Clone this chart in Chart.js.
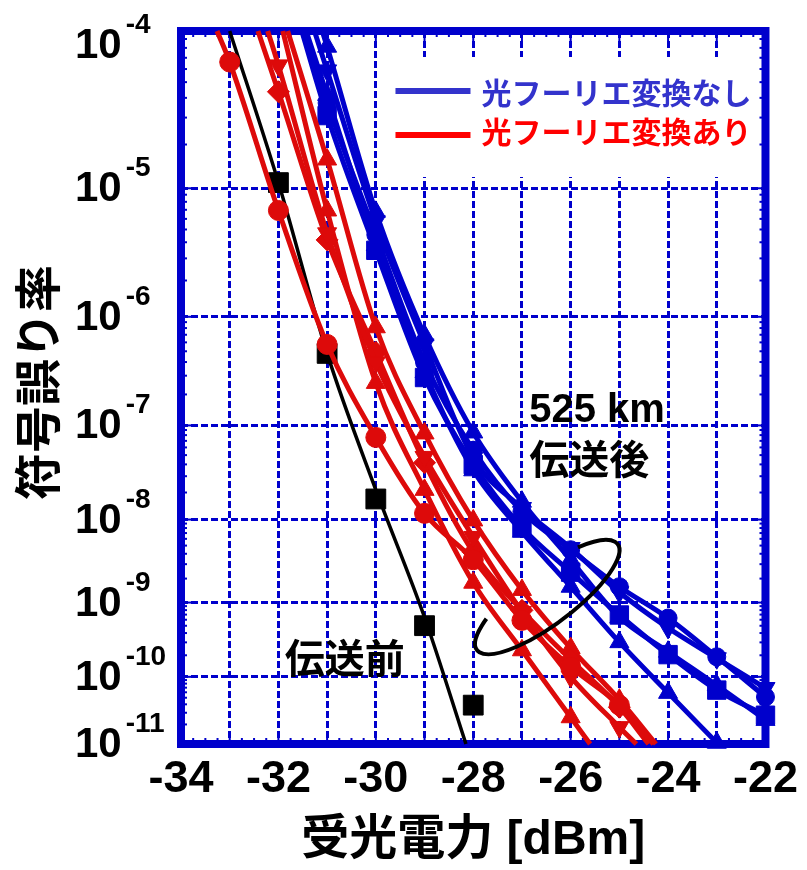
<!DOCTYPE html>
<html lang="ja">
<head>
<meta charset="utf-8">
<title>符号誤り率特性</title>
<script src="https://cdn.jsdelivr.net/npm/chart.js@4.4.1/dist/chart.umd.min.js"></script>
<style>
  html, body { margin: 0; padding: 0; background: #ffffff; }
  #wrap { width: 807px; height: 870px; }
</style>
</head>
<body>
<div id="wrap"><canvas id="ber" width="807" height="870"></canvas></div>
<script>
// Received optical power [dBm] and log10(symbol error rate) for every curve.
// A power with a fractional value is where a fitted curve leaves the frame;
// integer powers are measured points and carry a marker.

// Before transmission (black): fitted line and measured points
const b2bFitPower  = [-33.0, -32, -31, -30, -29, -28.15];
const b2bFitLogBer = [-4.00, -4.96, -6.32, -7.67, -9.19, -11.0];
const b2bPower     = [-32, -31, -30, -29, -28];
const b2bLogBer    = [-4.96, -6.32, -7.77, -9.30, -10.41];

// After 525 km, with optical Fourier transform (red)
const ftCirclePower   = [-33.26, -33, -32, -31, -30, -29, -28, -27, -26, -25, -24.3];
const ftCircleLogBer  = [-4.00, -4.18, -5.16, -6.24, -7.12, -7.93, -8.47, -9.23, -9.86, -10.41, -11.0];
const ftDownPower     = [-32.22, -32, -31, -30, -29, -28, -27, -26, -25, -24.65];
const ftDownLogBer    = [-4.00, -4.20, -5.33, -6.40, -7.32, -8.20, -9.12, -10.00, -10.74, -11.0];
const ftDiamondPower  = [-32.42, -32, -31, -30, -29, -28, -27, -26, -25, -24.4];
const ftDiamondLogBer = [-4.00, -4.36, -5.38, -6.31, -7.38, -8.38, -9.10, -9.76, -10.44, -11.0];
const ftUpPower       = [-31.81, -31, -30, -29, -28, -27, -26, -25, -24.25];
const ftUpLogBer      = [-4.00, -4.80, -6.09, -7.08, -8.01, -8.84, -9.60, -10.33, -11.0];
const ftUp2Power      = [-31.91, -31, -30, -29, -28, -27, -26, -25.6];
const ftUp2LogBer     = [-4.00, -5.16, -6.59, -7.67, -8.75, -9.63, -10.59, -11.0];

// After 525 km, without optical Fourier transform (blue)
const noCirclePower  = [-31.47, -31, -30, -29, -28, -27, -26, -25, -24, -23, -22];
const noCircleLogBer = [-4.00, -4.43, -5.34, -6.40, -7.25, -7.91, -8.35, -8.80, -9.20, -9.72, -10.29];
const noDownPower    = [-31.26, -31, -30, -29, -28, -27, -26, -25, -24, -23, -22];
const noDownLogBer   = [-4.00, -4.23, -5.24, -6.24, -7.33, -7.87, -8.33, -8.87, -9.33, -9.74, -10.16];
const noSquarePower  = [-31.52, -31, -30, -29, -28, -27, -26, -25, -24, -23, -22];
const noSquareLogBer = [-4.00, -4.51, -5.46, -6.54, -7.40, -8.09, -8.62, -9.16, -9.69, -10.19, -10.56];
const noUpPower      = [-31.1, -31, -30, -29, -28, -27, -26, -25, -24, -23, -22];
const noUpLogBer     = [-4.00, -4.09, -5.17, -6.16, -7.07, -7.80, -8.47, -9.19, -9.65, -10.12, -10.63];
const noUp2Power     = [-31.43, -31, -30, -29, -28, -27, -26, -25, -24, -23];
const noUp2LogBer    = [-4.00, -4.38, -5.42, -6.49, -7.46, -8.14, -8.80, -9.52, -10.23, -10.98];

// Axis ticks
const berExponents = [-4, -5, -6, -7, -8, -9, -10, -11];
const powerTicks   = [-34, -32, -30, -28, -26, -24, -22];

// Legend entries
const legendLabels = ['光フーリエ変換なし', '光フーリエ変換あり'];

const BLUE = '#0000CC';
const RED = '#DD0A0A';
const BLACK = '#000000';
const LATIN = '"Liberation Sans", Arial, sans-serif';
const CJK = '"Liberation Sans", "Noto Sans CJK JP", sans-serif';

// symbol error rate axis: log10(-log10(BER)), so the decades spread out at high BER
const berAxis = logBer => Math.log10(-logBer);

function curve(power, logBer, color, shape, radius, rotation) {
  return {
    data: power.map((p, i) => ({ x: p, y: berAxis(logBer[i]) })),
    showLine: true,
    borderColor: color,
    backgroundColor: color,
    borderWidth: 5,
    cubicInterpolationMode: 'monotone',
    pointStyle: shape,
    pointRotation: rotation || 0,
    pointRadius: ctx => (ctx.raw && Number.isInteger(ctx.raw.x)) ? radius : 0,
    pointBorderWidth: 1,
    pointBorderColor: color,
    pointBackgroundColor: color,
    clip: false
  };
}

const datasets = [
  curve(ftCirclePower, ftCircleLogBer, RED, 'circle', 10),
  curve(ftDownPower, ftDownLogBer, RED, 'triangle', 11, 180),
  curve(ftDiamondPower, ftDiamondLogBer, RED, 'rectRot', 11),
  curve(ftUpPower, ftUpLogBer, RED, 'triangle', 11),
  curve(ftUp2Power, ftUp2LogBer, RED, 'triangle', 11),
  curve(noCirclePower, noCircleLogBer, BLUE, 'circle', 9),
  curve(noDownPower, noDownLogBer, BLUE, 'triangle', 11, 180),
  curve(noSquarePower, noSquareLogBer, BLUE, 'rect', 13),
  curve(noUpPower, noUpLogBer, BLUE, 'triangle', 11),
  curve(noUp2Power, noUp2LogBer, BLUE, 'triangle', 11),
  {
    data: b2bPower.map((p, i) => ({ x: p, y: berAxis(b2bLogBer[i]) })),
    showLine: false,
    pointStyle: 'rect',
    pointRadius: 14,
    pointBackgroundColor: BLACK,
    pointBorderColor: BLACK,
    clip: false
  },
  {
    data: b2bFitPower.map((p, i) => ({ x: p, y: berAxis(b2bFitLogBer[i]) })),
    showLine: true,
    borderColor: BLACK,
    borderWidth: 3.5,
    cubicInterpolationMode: 'monotone',
    pointRadius: 0,
    clip: false
  }
];

function stroke(ctx, x1, y1, x2, y2) {
  ctx.beginPath();
  ctx.moveTo(x1, y1);
  ctx.lineTo(x2, y2);
  ctx.stroke();
}

// Frame, inner ticks and the legend panel, drawn over the grid and under the curves
const framePlugin = {
  id: 'framePlugin',
  beforeDatasetsDraw(chart) {
    const { ctx, chartArea: a, scales: { x, y } } = chart;
    ctx.save();

    // legend panel
    const lx = a.right - 372;
    ctx.fillStyle = '#ffffff';
    ctx.fillRect(lx, a.top + 26, a.right - lx - 4, 120);
    const rows = [{ c: '#3333CC', dy: 60 }, { c: '#FF0000', dy: 104 }];
    rows.forEach((r, i) => {
      ctx.strokeStyle = r.c;
      ctx.lineWidth = 6;
      stroke(ctx, lx + 2, a.top + r.dy, lx + 77, a.top + r.dy);
      ctx.fillStyle = r.c;
      ctx.font = 'bold 30px "Noto Sans CJK JP", sans-serif';
      ctx.textAlign = 'left';
      ctx.textBaseline = 'middle';
      ctx.fillText(legendLabels[i], lx + 88, a.top + r.dy + (i === 0 ? 2 : -3));
    });

    // minor and major ticks along the frame
    ctx.strokeStyle = BLUE;
    ctx.lineWidth = 2;
    for (let k = 0; k <= 48; k++) {
      const p = -34 + k * 0.25;
      const px = x.getPixelForValue(p);
      const len = k % 4 === 0 ? 11 : 6;
      stroke(ctx, px, a.bottom, px, a.bottom - len);
      stroke(ctx, px, a.top, px, a.top + len);
    }
    for (let e = 4; e <= 10; e++) {
      for (let m = 2; m <= 9; m++) {
        const py = y.getPixelForValue(Math.log10(e + 1 - Math.log10(m)));
        stroke(ctx, a.left, py, a.left + 6, py);
        stroke(ctx, a.right, py, a.right - 6, py);
      }
    }
    berExponents.forEach(e => {
      const py = y.getPixelForValue(berAxis(e));
      stroke(ctx, a.left, py, a.left + 11, py);
      stroke(ctx, a.right, py, a.right - 11, py);
    });

    // frame
    ctx.lineWidth = 8;
    ctx.strokeRect(a.left, a.top, a.right - a.left, a.bottom - a.top);
    ctx.restore();
  },

  afterDatasetsDraw(chart) {
    const { ctx, scales: { x, y } } = chart;
    ctx.save();
    ctx.fillStyle = BLACK;
    ctx.textAlign = 'left';

    // "525 km / 伝送後" note
    const nx = x.getPixelForValue(-26.85);
    ctx.font = 'bold 40px ' + LATIN;
    ctx.textBaseline = 'alphabetic';
    ctx.fillText('525 km', nx, y.getPixelForValue(berAxis(-7)) - 3);
    ctx.font = 'bold 40px "Noto Sans CJK JP", sans-serif';
    ctx.textBaseline = 'middle';
    ctx.fillText('伝送後', nx, y.getPixelForValue(berAxis(-7.34)));

    // "伝送前" note
    ctx.fillText('伝送前', x.getPixelForValue(-31.87), y.getPixelForValue(berAxis(-9.74)));

    // ellipse grouping the curves after transmission
    ctx.strokeStyle = BLACK;
    ctx.lineWidth = 4;
    ctx.beginPath();
    ctx.ellipse(x.getPixelForValue(-26.48), y.getPixelForValue(berAxis(-8.93)),
      88, 27, -37 * Math.PI / 180, -51.8 * Math.PI / 180, 225.5 * Math.PI / 180);
    ctx.stroke();
    ctx.restore();
  },

  afterDraw(chart) {
    const { ctx, chartArea: a, scales: { y } } = chart;
    ctx.save();
    ctx.fillStyle = BLACK;
    ctx.textAlign = 'left';
    ctx.textBaseline = 'alphabetic';

    // 10^n tick labels
    const lx = a.left - 106;
    berExponents.forEach(e => {
      const py = y.getPixelForValue(berAxis(e));
      const base = Math.max(py + 13, a.top + 27);
      ctx.font = 'bold 42px ' + LATIN;
      ctx.fillText('10', lx, base);
      const w = ctx.measureText('10').width;
      ctx.font = 'bold 28px ' + LATIN;
      ctx.fillText(String(e), lx + w + 4, base - 25);
    });

    // vertical axis title
    ctx.translate(37, (a.top + a.bottom) / 2 - 5);
    ctx.rotate(-Math.PI / 2);
    ctx.textAlign = 'center';
    ctx.textBaseline = 'middle';
    ctx.font = 'bold 47px "Noto Sans CJK JP", sans-serif';
    ctx.fillText('符号誤り率', 0, 0);
    ctx.restore();
  }
};

new Chart(document.getElementById('ber'), {
  type: 'scatter',
  data: { datasets },
  options: {
    responsive: false,
    animation: false,
    events: [],
    layout: { padding: { top: 31, right: 40, bottom: 0, left: 0 } },
    plugins: { legend: { display: false }, tooltip: { enabled: false } },
    scales: {
      x: {
        type: 'linear',
        min: -34,
        max: -22,
        afterFit(s) { s.height = 126; },
        ticks: {
          stepSize: 1,
          autoSkip: false,
          maxRotation: 0,
          minRotation: 0,
          padding: 9,
          color: BLACK,
          font: { family: LATIN, size: 45, weight: 'bold' },
          callback: v => (powerTicks.includes(v) ? String(v) : '')
        },
        grid: { color: BLUE, lineWidth: 3, drawTicks: false },
        border: { display: false, dash: [7, 3] },
        title: {
          display: true,
          text: '受光電力 [dBm]',
          color: BLACK,
          font: { family: CJK, size: 48, weight: 'bold' },
          padding: { top: 0, bottom: 0 }
        }
      },
      y: {
        type: 'linear',
        reverse: true,
        min: berAxis(-4),
        max: berAxis(-11),
        afterFit(s) { s.width = 181; },
        afterBuildTicks(s) { s.ticks = berExponents.map(e => ({ value: berAxis(e) })); },
        ticks: { display: false },
        grid: { color: BLUE, lineWidth: 3, drawTicks: false },
        border: { display: false, dash: [7, 3] }
      }
    }
  },
  plugins: [framePlugin]
});
</script>
</body>
</html>
